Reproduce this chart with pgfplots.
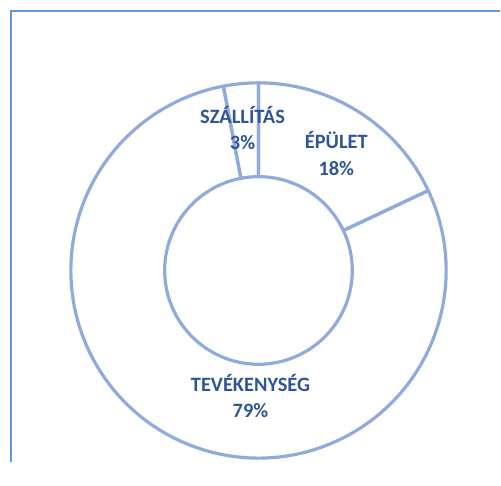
\documentclass[border=0pt]{standalone}
\usepackage{pgfplots}
\usepackage{pgfplotstable}
\pgfplotsset{compat=1.18}
\usetikzlibrary{calc}
\usepackage{fontspec}
\setmainfont{Carlito}
\definecolor{ring}{HTML}{8FAADC}
\definecolor{lbl}{HTML}{2F5597}
\definecolor{frm}{HTML}{5B9BD5}

\pgfplotstableread[col sep=comma]{
label,pct,lx,ly
ÉPÜLET,18,337,309
TEVÉKENYSÉG,79,251,66
SZÁLLÍTÁS,3,243,335
}\donut

\begin{document}
\begin{tikzpicture}
\begin{axis}[
  scale only axis, width=501bp, height=463bp,
  xmin=0, xmax=501, ymin=0, ymax=463,
  hide axis, clip=false,
]
\path (axis cs:0,0) rectangle (axis cs:501,463);
% frame
\draw[frm, line width=2bp] (axis cs:11.5,0) -- (axis cs:11.5,452) -- (axis cs:501,452);
% donut segments
\gdef\acc{90}
\pgfplotsforeachungrouped \i in {0,1,2}{
  \pgfplotstablegetelem{\i}{pct}\of\donut
  \let\p\pgfplotsretval
  \pgfmathsetmacro\aend{\acc-3.6*\p}
  \edef\cmd{\noexpand\draw[ring, line width=3.2bp, line join=round]
    ($(axis cs:259,192)+(\acc:188bp)$) arc[start angle=\acc, end angle=\aend, radius=188bp]
    -- ($(axis cs:259,192)+(\aend:94bp)$) arc[start angle=\aend, end angle=\acc, radius=94bp]
    -- cycle;}
  \cmd
  \global\let\acc\aend
}
% labels
\pgfplotsforeachungrouped \i in {0,1,2}{
  \pgfplotstablegetelem{\i}{label}\of\donut \let\lab\pgfplotsretval
  \pgfplotstablegetelem{\i}{pct}\of\donut \let\p\pgfplotsretval
  \pgfplotstablegetelem{\i}{lx}\of\donut \let\lx\pgfplotsretval
  \pgfplotstablegetelem{\i}{ly}\of\donut \let\ly\pgfplotsretval
  \edef\cmd{\noexpand\node[text=lbl, font=\noexpand\fontsize{20.5}{26.5}\noexpand\selectfont\noexpand\bfseries, align=center, inner sep=0pt]
    at (axis cs:\lx,\ly) {\lab\noexpand\\\p\noexpand\%};}
  \cmd
}
\end{axis}
\end{tikzpicture}
\end{document}
